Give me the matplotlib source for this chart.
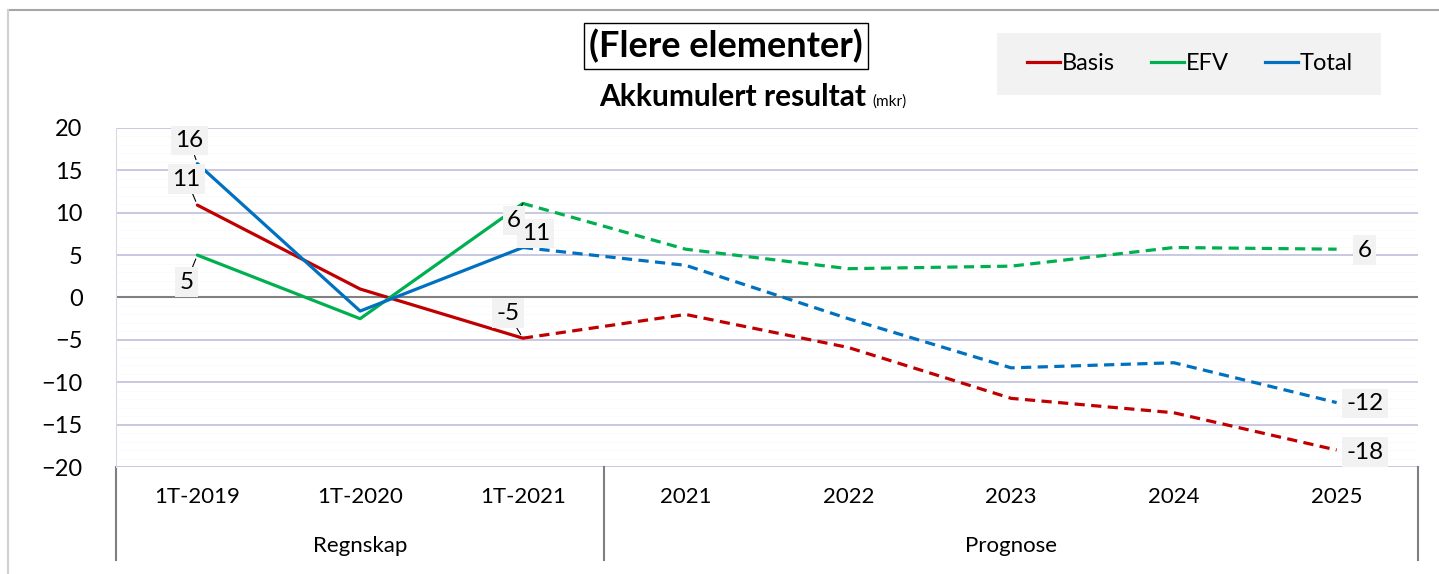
import matplotlib.pyplot as plt
from matplotlib.patches import Rectangle
from matplotlib.lines import Line2D
import matplotlib.transforms as mtransforms

plt.rcParams['font.family'] = ['Lato', 'DejaVu Sans']

# --- data ---
kategorier = ["1T-2019", "1T-2020", "1T-2021", "2021", "2022", "2023", "2024", "2025"]
grupper = ["Regnskap", "Prognose"]
gruppe_storrelse = [3, 5]

basis = [10.9, 1.0, -4.8, -2.0, -5.9, -11.9, -13.6, -18.0]
efv = [5.0, -2.5, 11.1, 5.7, 3.4, 3.7, 5.9, 5.7]
total = [15.8, -1.6, 5.9, 3.8, -2.5, -8.3, -7.7, -12.4]

serier = ["Basis", "EFV", "Total"]
farger = ["#C00000", "#00B050", "#0070C0"]

# datalabels: (serie, kategori, tekst)
etiketter = [
    (2, 0, "16"), (0, 0, "11"), (1, 0, "5"),
    (2, 2, "11"), (1, 2, "6"), (0, 2, "-5"),
    (1, 7, "6"), (2, 7, "-12"), (0, 7, "-18"),
]
# forskyvning i piksler for hver etikett, samt om den har ledelinje
forskyvning = [(-8, 23), (-11, 26), (-11, -27),
               (13, 14), (-9, -17), (-15, 25),
               (28, -1), (28, -1), (28, -2)]
ledelinje = [True, True, True, True, True, True, False, False, False]

W, H = 1439, 574
fig = plt.figure(figsize=(W / 100, H / 100), dpi=100)

venstre, hoyre, topp, bunn = 116, 1418, 128, 467
ax = fig.add_axes([venstre / W, 1 - bunn / H, (hoyre - venstre) / W, (bunn - topp) / H])

x = list(range(len(kategorier)))
verdier = [basis, efv, total]
skille = gruppe_storrelse[0] - 1  # siste regnskapspunkt

for v, farge, navn in zip(verdier, farger, serier):
    ax.plot(x[:skille + 1], v[:skille + 1], color=farge, lw=2.3, label=navn,
            solid_capstyle='round', zorder=4)
    ax.plot(x[skille:], v[skille:], color=farge, lw=2.3, ls=(0, (3.2, 2.0)), zorder=4)

ax.set_xlim(-0.5, len(kategorier) - 0.5)
ax.set_ylim(-20, 20)
ax.set_yticks(range(-20, 21, 5))
ax.set_yticks(range(-20, 21, 1), minor=True)
ax.grid(True, which='major', axis='y', color='#c4c4df', lw=1.3, zorder=1)
ax.grid(True, which='minor', axis='y', color='#fafafa', lw=0.6, zorder=0)
ax.axhline(0, color='#808080', lw=1.5, zorder=2)
ax.set_xticks([])
ax.tick_params(axis='y', which='both', length=0, labelsize=17, pad=24)
for s in ['top', 'right', 'bottom']:
    ax.spines[s].set_visible(False)
ax.spines['left'].set_color('#d9d9e8')

# kategoriakse med grupper
trans = mtransforms.blended_transform_factory(ax.transData, ax.transAxes)
akse_h = bunn - topp
for i, k in enumerate(kategorier):
    ax.text(i, -30 / akse_h, k, transform=trans, ha='center', va='center', fontsize=16)
start = 0
for g, n in zip(grupper, gruppe_storrelse):
    ax.text(start + (n - 1) / 2, -79 / akse_h, g, transform=trans, ha='center',
            va='center', fontsize=16)
    start += n
for xs in [-0.5, gruppe_storrelse[0] - 0.5, len(kategorier) - 0.5]:
    ax.plot([xs, xs], [0, -93 / akse_h], transform=trans, color='#808080', lw=1.5,
            clip_on=False)

# datalabels
for (si, ki, tekst), (dx, dy), led in zip(etiketter, forskyvning, ledelinje):
    pil = dict(arrowstyle='-', color='black', lw=0.8, shrinkA=0, shrinkB=3) if led else None
    ax.annotate(tekst, xy=(ki, verdier[si][ki]), xytext=(dx, dy), textcoords='offset pixels',
                ha='center', va='center', fontsize=17.5, zorder=6,
                bbox=dict(boxstyle='square,pad=0.18', fc='#f2f2f2', ec='none'),
                arrowprops=pil)

# titler
fig.text(726 / W, 1 - 46 / H, "(Flere elementer)", ha='center', va='center', fontsize=26,
         fontweight='bold',
         bbox=dict(boxstyle='square,pad=0.15', fc='white', ec='black', lw=1.0))
fig.text(866 / W, 1 - 106 / H, "Akkumulert resultat", ha='right', va='baseline',
         fontsize=21.5, fontweight='bold')
fig.text(872 / W, 1 - 106 / H, "(mkr)", ha='left', va='baseline', fontsize=11)

# legende
fig.patches.append(Rectangle((997 / W, 1 - 95 / H), 384 / W, 62 / H, transform=fig.transFigure,
                             fc='#f2f2f2', ec='none', zorder=0))
handles = [Line2D([], [], color=f, lw=2.3) for f in farger]
fig.legend(handles, serier, loc='center', bbox_to_anchor=(1190 / W, 1 - 64 / H), ncol=3,
           frameon=False, fontsize=17, handlelength=1.4, handletextpad=0.1,
           columnspacing=1.5)

# ramme rundt figuren
fig.add_artist(Line2D([8 / W, 1], [1 - 10 / H, 1 - 10 / H], transform=fig.transFigure,
                      color='#a6a6a6', lw=1.5))
fig.add_artist(Line2D([8 / W, 8 / W], [0, 1 - 10 / H], transform=fig.transFigure,
                      color='#d0d0d0', lw=1.5))

fig.savefig("out.png", dpi=100)
